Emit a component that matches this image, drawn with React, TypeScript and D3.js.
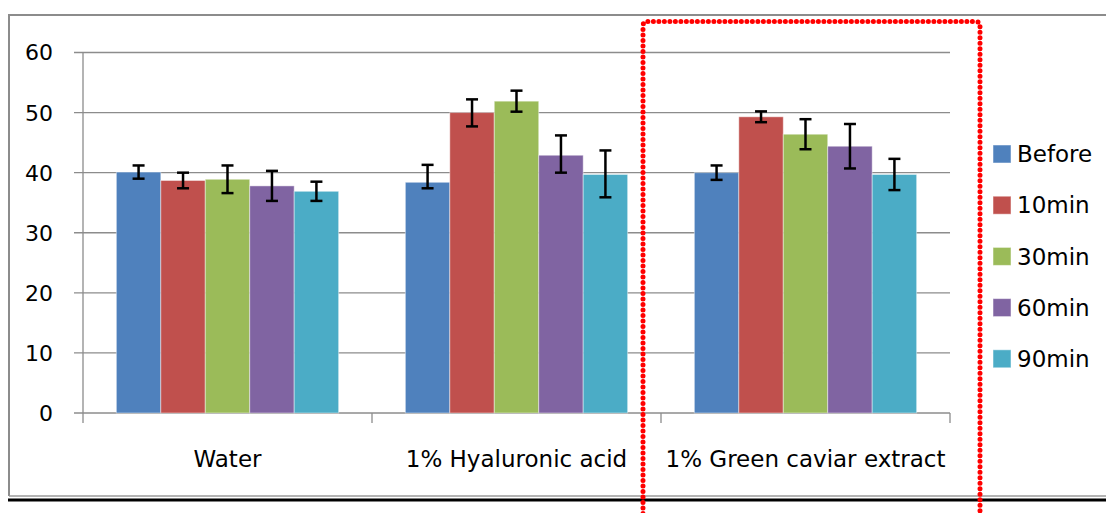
import React from "react";
import * as d3 from "d3";

// categories and series
const categories = ["Water", "1% Hyaluronic acid", "1% Green caviar extract"];
const seriesNames = ["Before", "10min", "30min", "60min", "90min"];
const seriesColors = ["#4F81BD", "#C0504D", "#9BBB59", "#8064A2", "#4BACC6"];

// values per category, one entry per series
const waterValues = [40.1, 38.7, 38.9, 37.8, 36.9];
const hyaluronicValues = [38.4, 50.0, 51.9, 42.9, 39.7];
const caviarValues = [40.0, 49.3, 46.4, 44.4, 39.7];

// error bar extents (plus / minus)
const waterErrUp = [1.1, 1.3, 2.3, 2.5, 1.6];
const waterErrDown = [1.1, 1.3, 2.3, 2.5, 1.6];
const hyaluronicErrUp = [2.9, 2.2, 1.75, 3.3, 4.0];
const hyaluronicErrDown = [1.0, 2.3, 1.75, 2.9, 3.8];
const caviarErrUp = [1.2, 0.9, 2.5, 3.7, 2.6];
const caviarErrDown = [1.2, 0.9, 2.5, 3.7, 2.6];

const yTicks = [0, 10, 20, 30, 40, 50, 60];

const groupValues = [waterValues, hyaluronicValues, caviarValues];
const groupErrUp = [waterErrUp, hyaluronicErrUp, caviarErrUp];
const groupErrDown = [waterErrDown, hyaluronicErrDown, caviarErrDown];

const W = 1106;
const H = 513;
const FONT = "'DejaVu Sans', Verdana, sans-serif";

export default function App() {
  const x0 = d3.scaleBand<string>().domain(categories).range([83, 950]).padding(0);
  const x1 = d3
    .scaleBand<string>()
    .domain(seriesNames)
    .range([0, x0.bandwidth()])
    .paddingInner(0)
    .paddingOuter(0.75);
  const y = d3.scaleLinear().domain([0, 60]).range([413, 52.5]);
  const color = d3.scaleOrdinal<string>().domain(seriesNames).range(seriesColors);

  const catTicks = [...categories.map((c) => x0(c) as number), 950];
  const capHalf = 6;

  return (
    <svg
      width={W}
      height={H}
      style={{ position: "absolute", left: 0, top: 0, background: "#fff" }}
      fontFamily={FONT}
    >
      {/* outer chart frame */}
      <path d={`M9,496 L9,15 L1110,15`} fill="none" stroke="#8C8C8C" strokeWidth={2} />
      <line x1={9} x2={W} y1={496} y2={496} stroke="#9A9A9A" strokeWidth={1.5} />
      <line x1={8} x2={W} y1={500} y2={500} stroke="#000" strokeWidth={3} />

      {/* gridlines */}
      {yTicks.map((t) => (
        <line
          key={"g" + t}
          x1={74}
          x2={950}
          y1={y(t)}
          y2={y(t)}
          stroke="#8C8C8C"
          strokeWidth={1.3}
        />
      ))}
      {/* y axis line */}
      <line x1={83} x2={83} y1={y(60)} y2={y(0)} stroke="#8C8C8C" strokeWidth={1.3} />
      {/* x axis category ticks */}
      {catTicks.map((tx, i) => (
        <line key={"xt" + i} x1={tx} x2={tx} y1={y(0)} y2={y(0) + 10} stroke="#8C8C8C" strokeWidth={1.3} />
      ))}

      {/* y tick labels */}
      {yTicks.map((t) => (
        <text key={"yl" + t} x={53} y={y(t)} dy="0.36em" textAnchor="end" fontSize={22} fill="#000">
          {t}
        </text>
      ))}

      {/* bars */}
      {categories.map((c, ci) => (
        <g key={c} transform={`translate(${x0(c)},0)`}>
          {seriesNames.map((s, si) => {
            const v = groupValues[ci][si];
            return (
              <rect
                key={s}
                x={x1(s)}
                y={y(v)}
                width={x1.bandwidth()}
                height={y(0) - y(v)}
                fill={color(s)}
                stroke="#ffffff"
                strokeOpacity={0.45}
                strokeWidth={1}
              />
            );
          })}
          {seriesNames.map((s, si) => {
            const v = groupValues[ci][si];
            const cx = (x1(s) as number) + x1.bandwidth() / 2;
            const top = y(v + groupErrUp[ci][si]);
            const bot = y(v - groupErrDown[ci][si]);
            return (
              <g key={"e" + s} stroke="#000" strokeWidth={2.5}>
                <line x1={cx} x2={cx} y1={top} y2={bot} />
                <line x1={cx - capHalf} x2={cx + capHalf} y1={top} y2={top} />
                <line x1={cx - capHalf} x2={cx + capHalf} y1={bot} y2={bot} />
              </g>
            );
          })}
          <text
            x={x0.bandwidth() / 2}
            y={467}
            textAnchor="middle"
            fontSize={23}
            fill="#000"
          >
            {c}
          </text>
        </g>
      ))}

      {/* legend */}
      {seriesNames.map((s, i) => {
        const cy = 154 + i * 51.2;
        return (
          <g key={"lg" + s}>
            <rect x={993} y={cy - 9} width={18} height={18} fill={color(s)} stroke="#fff" strokeOpacity={0.5} />
            <text x={1017} y={cy} dy="0.36em" fontSize={23} fill="#000">
              {s}
            </text>
          </g>
        );
      })}

      {/* red dotted highlight box */}
      <path
        d={`M643,530 L643,26 Q643,21.5 647.5,21.5 L975,21.5 Q980,21.5 980,26 L980,530`}
        fill="none"
        stroke="#FF0000"
        strokeWidth={5}
        strokeLinecap="round"
        strokeDasharray="0 5.5"
      />
    </svg>
  );
}
